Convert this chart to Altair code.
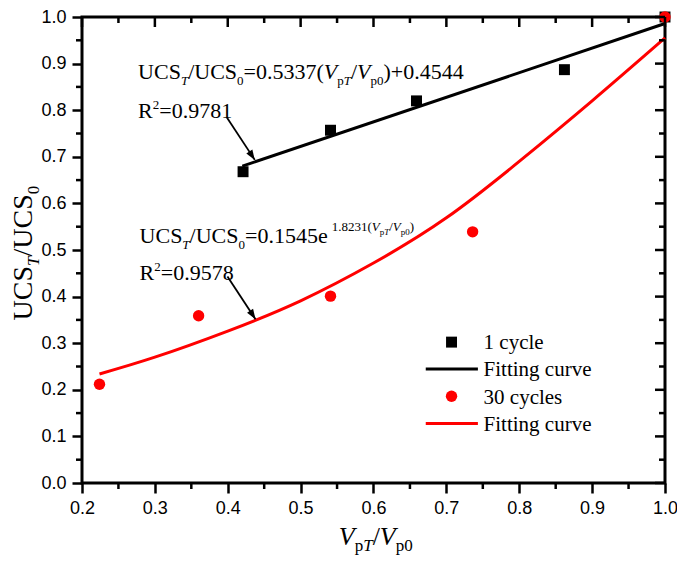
import altair as alt
import pandas as pd

# ---------------- data ----------------
cyc1_x = [0.421, 0.541, 0.659, 0.862, 1.0]
cyc1_y = [0.668, 0.757, 0.820, 0.887, 1.0]

fit1_x = [0.420, 1.0]
fit1_y = [0.680, 0.986]

cyc30_x = [0.224, 0.360, 0.541, 0.736, 1.0]
cyc30_y = [0.212, 0.359, 0.401, 0.539, 1.0]

fit30_x = [0.224, 0.30, 0.40, 0.50, 0.60, 0.70, 0.80, 0.90, 1.0]
fit30_y = [0.234, 0.270, 0.326, 0.391, 0.472, 0.569, 0.690, 0.820, 0.955]

x_major = [0.2, 0.3, 0.4, 0.5, 0.6, 0.7, 0.8, 0.9, 1.0]
x_minor = [0.25, 0.35, 0.45, 0.55, 0.65, 0.75, 0.85, 0.95]
y_major = [0.0, 0.1, 0.2, 0.3, 0.4, 0.5, 0.6, 0.7, 0.8, 0.9, 1.0]
y_minor = [0.05, 0.15, 0.25, 0.35, 0.45, 0.55, 0.65, 0.75, 0.85, 0.95]

legend_labels = ["1 cycle", "Fitting curve", "30 cycles", "Fitting curve"]

# annotation anchors (data coordinates) and arrows
ann1_eq = (0.277, 0.866)
ann1_r2 = (0.277, 0.783)
ann2_eq = (0.279, 0.514)
ann2_r2 = (0.279, 0.435)
arrow_start_x = [0.3986, 0.3996]
arrow_start_y = [0.785, 0.443]
arrow_end_x = [0.4371, 0.4381]
arrow_end_y = [0.6934, 0.3516]

# ---------------- styling ----------------
SERIF = "Liberation Serif"
SANS = "Liberation Sans"
PW, PH = 583, 466
TOP = 17  # page y of the plot's top edge (8px page margin + padding)


def LX(px):
    # reference-picture x -> plot pixels
    return (px - 84) / 588 * PW


def LY(py):
    # reference-picture y -> plot pixels
    return (py - 10) / 473 * PH


xs = alt.Scale(domain=[0.2, 1.0], nice=False, zero=False)
ys = alt.Scale(domain=[0.0, 1.0], nice=False, zero=False)
xaxis = alt.Axis(values=x_major, format=".1f", tickSize=10, tickWidth=2.5,
                 tickColor="black", domain=False, grid=False, labelFont=SANS,
                 labelFontSize=18, labelColor="black", labelPadding=6,
                 title=None, labelFlush=False)
yaxis = alt.Axis(values=y_major, format=".1f", tickSize=10, tickWidth=2.5,
                 tickColor="black", domain=False, grid=False, labelFont=SANS,
                 labelFontSize=18, labelColor="black", labelPadding=6,
                 title=None, labelFlush=False)


def X(f="x"):
    return alt.X(f"{f}:Q", scale=xs, axis=xaxis)


def Y(f="y"):
    return alt.Y(f"{f}:Q", scale=ys, axis=yaxis)


# Times-like advance widths (em)
W = {'U': .722, 'C': .667, 'S': .556, '/': .278, '=': .564, '.': .25, '(': .333,
     ')': .333, '+': .564, 'R': .667, 'e': .444, 'p': .5, ' ': .25, 'T': .611,
     'V': .722}
WI = {'T': .556, 'V': .611, 'p': .5}


def tw(s, size, italic=False):
    tot = 0.0
    for c in s:
        if c.isdigit():
            tot += .5
        elif italic:
            tot += WI.get(c, W.get(c, .5))
        else:
            tot += W.get(c, .5)
    return tot * size


dummy = pd.DataFrame({"d": [0]})


def rich(segs, anchor=None, px=None, angle=0):
    """segs: list of (text, size, italic, dy, extra_gap)"""
    layers = []
    dx = 0.0
    for seg in segs:
        text, size, italic, dy = seg[:4]
        gap = seg[4] if len(seg) > 4 else 0
        dx += gap
        kw = dict(text=text, font=SERIF, fontSize=size, color="black",
                  align="left", baseline="alphabetic", dx=dx, dy=dy)
        if italic:
            kw["fontStyle"] = "italic"
        if angle:
            kw["angle"] = angle
        if anchor is not None:
            df = pd.DataFrame({"x": [anchor[0]], "y": [anchor[1]]})
            layers.append(alt.Chart(df).mark_text(**kw).encode(x=X(), y=Y()))
        else:
            layers.append(alt.Chart(dummy).mark_text(**kw).encode(
                x=alt.value(px[0]), y=alt.value(px[1])))
        dx += tw(text, size, italic)
    return layers


M, S, SS = 22, 13, 9
eq1 = [("UCS", M, False, 0), ("T", S, True, 6), ("/UCS", M, False, 0),
       ("0", S, False, 6), ("=0.5337(", M, False, 0), ("V", M, True, 0),
       ("p", S, False, 6), ("T", S, True, 6), ("/", M, False, 0),
       ("V", M, True, 0), ("p0", S, False, 6), (")+0.4544", M, False, 0)]
r2_1 = [("R", M, False, 0), ("2", S, False, -9), ("=0.9781", M, False, 0)]
eq2 = [("UCS", M, False, 0), ("T", S, True, 6), ("/UCS", M, False, 0),
       ("0", S, False, 6), ("=0.1545e", M, False, 0),
       ("1.8231(", S, False, -12, 4), ("V", S, True, -12),
       ("p", SS, False, -8), ("T", SS, True, -8), ("/", S, False, -12),
       ("V", S, True, -12), ("p0", SS, False, -8), (")", S, False, -12)]
r2_2 = [("R", M, False, 0), ("2", S, False, -9), ("=0.9578", M, False, 0)]

ytitle = [("UCS", 28, False, 0), ("T", 17, True, 7), ("/UCS", 28, False, 0),
          ("0", 17, False, 7)]
xtitle = [("V", 26, True, 0), ("p", 17, False, 6), ("T", 17, True, 6),
          ("/", 26, False, 0), ("V", 26, True, 0), ("p0", 17, False, 6)]

# ---------------- layers ----------------
fit1 = alt.Chart(pd.DataFrame({"x": fit1_x, "y": fit1_y})).mark_line(
    color="black", strokeWidth=3).encode(x=X(), y=Y())
fit30 = alt.Chart(pd.DataFrame({"x": fit30_x, "y": fit30_y})).mark_line(
    color="red", strokeWidth=3, interpolate="natural").encode(x=X(), y=Y())
sq = alt.Chart(pd.DataFrame({"x": cyc1_x, "y": cyc1_y})).mark_square(
    color="black", size=120, opacity=1).encode(x=X(), y=Y())
ci = alt.Chart(pd.DataFrame({"x": cyc30_x, "y": cyc30_y})).mark_circle(
    color="red", size=130, opacity=1).encode(x=X(), y=Y())

tick_layers = []
xmin_df = pd.DataFrame({"x": x_minor})
xmaj_df = pd.DataFrame({"x": x_major})
ymin_df = pd.DataFrame({"y": y_minor})
ymaj_df = pd.DataFrame({"y": y_major})
rk = dict(color="black", strokeWidth=2.5)
tick_layers.append(alt.Chart(xmin_df).mark_rule(**rk).encode(
    x=X(), y=alt.value(PH), y2=alt.value(PH + 6)))
tick_layers.append(alt.Chart(xmaj_df).mark_rule(**rk).encode(
    x=X(), y=alt.value(0), y2=alt.value(10)))
tick_layers.append(alt.Chart(xmin_df).mark_rule(**rk).encode(
    x=X(), y=alt.value(0), y2=alt.value(6)))
tick_layers.append(alt.Chart(ymin_df).mark_rule(**rk).encode(
    y=Y(), x=alt.value(0), x2=alt.value(-6)))
tick_layers.append(alt.Chart(ymaj_df).mark_rule(**rk).encode(
    y=Y(), x=alt.value(PW), x2=alt.value(PW - 10)))
tick_layers.append(alt.Chart(ymin_df).mark_rule(**rk).encode(
    y=Y(), x=alt.value(PW), x2=alt.value(PW - 6)))

arr_df = pd.DataFrame({"x": arrow_start_x, "y": arrow_start_y,
                       "x2": arrow_end_x, "y2": arrow_end_y})
arrows = alt.Chart(arr_df).mark_rule(color="black", strokeWidth=1.8).encode(
    x=X(), y=Y(), x2="x2:Q", y2="y2:Q")
heads = alt.Chart(pd.DataFrame({"x": arrow_end_x, "y": arrow_end_y})).mark_point(
    shape="M0,0L0.36,1L-0.36,1Z", filled=True, size=400, angle=147,
    color="black", opacity=1, strokeWidth=0).encode(x=X(), y=Y())

texts = []
texts += rich(eq1, anchor=ann1_eq)
texts += rich(r2_1, anchor=ann1_r2)
texts += rich(eq2, anchor=ann2_eq)
texts += rich(r2_2, anchor=ann2_r2)
texts += rich(ytitle, px=(-50, LY(318)), angle=270)
texts += rich(xtitle, px=(LX(343), 545 - TOP))

# legend (positions in plot pixels)
leg = []
leg.append(alt.Chart(dummy).mark_square(color="black", size=120, opacity=1).encode(
    x=alt.value(LX(456.7)), y=alt.value(LY(340))))
leg.append(alt.Chart(dummy).mark_rule(color="black", strokeWidth=3).encode(
    x=alt.value(LX(430.7)), x2=alt.value(LX(483.3)), y=alt.value(LY(367.3))))
leg.append(alt.Chart(dummy).mark_circle(color="red", size=130, opacity=1).encode(
    x=alt.value(LX(456.7)), y=alt.value(LY(395))))
leg.append(alt.Chart(dummy).mark_rule(color="red", strokeWidth=3).encode(
    x=alt.value(LX(430.7)), x2=alt.value(LX(483.3)), y=alt.value(LY(422.7))))
for lab, by in zip(legend_labels, [346.7, 374.3, 402.7, 430.0]):
    leg.append(alt.Chart(dummy).mark_text(
        text=lab, font=SERIF, fontSize=21, color="black", align="left",
        baseline="alphabetic").encode(x=alt.value(LX(489)), y=alt.value(LY(by))))

chart = alt.layer(fit1, fit30, sq, ci, *tick_layers, arrows, heads,
                  *texts, *leg).properties(
    width=PW, height=PH,
    autosize=alt.AutoSizeParams(type="none"),
    padding={"left": 74, "top": TOP - 8, "right": 12, "bottom": 548 - (TOP - 8) - PH},
    background="white",
).configure_view(stroke="black", strokeWidth=3)

chart.save("out.html", embed_options={"renderer": "svg", "actions": False})
